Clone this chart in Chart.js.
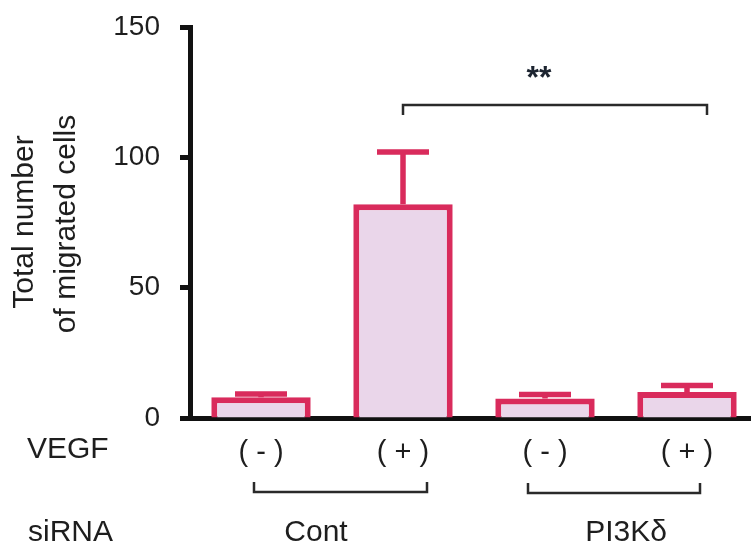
<!DOCTYPE html>
<html>
<head>
<meta charset="utf-8">
<script src="https://cdn.jsdelivr.net/npm/chart.js@4.4.0/dist/chart.umd.min.js"></script>
<style>
  html, body { margin: 0; padding: 0; background: #fff; overflow: hidden; }
  canvas { display: block; }
</style>
</head>
<body>
<canvas id="c" width="770" height="553"></canvas>
<script>
// values
const categories = ["( - )", "( + )", "( - )", "( + )"];
const meanValues = [8, 82, 7.5, 10];
const upperValues = [9.2, 102, 9, 12.5];
const yTicks = [0, 50, 100, 150];
const groupLabels = ["Cont", "PI3Kδ"];
const rowLabels = ["VEGF", "siRNA"];
const yTitle = ["Total number", "of migrated cells"];
const sigLabel = "**";

const FONT = 'Arial, "Liberation Sans", sans-serif';
const RED = "#d92b5c";
const FILL = "#ead6ea";
const INK = "#1e1e1e";

const errorBars = {
  id: "errorBars",
  afterDatasetsDraw(chart) {
    const ctx = chart.ctx;
    const y = chart.scales.y;
    const meta = chart.getDatasetMeta(0);
    ctx.save();
    ctx.strokeStyle = RED;
    ctx.lineWidth = 5.5;
    meta.data.forEach((bar, i) => {
      const top = y.getPixelForValue(meanValues[i]);
      const hi = y.getPixelForValue(upperValues[i]);
      ctx.beginPath();
      ctx.moveTo(bar.x, top);
      ctx.lineTo(bar.x, hi);
      ctx.moveTo(bar.x - 26, hi);
      ctx.lineTo(bar.x + 26, hi);
      ctx.stroke();
    });
    ctx.restore();
  }
};

const annotations = {
  id: "annotations",
  afterDraw(chart) {
    const ctx = chart.ctx;
    const x = chart.scales.x;
    const px = i => x.getPixelForValue(i);
    ctx.save();
    ctx.fillStyle = INK;
    ctx.strokeStyle = "#2a2a2a";
    ctx.lineWidth = 2.5;

    // y title, two rotated lines
    ctx.font = "30px " + FONT;
    ctx.textAlign = "center";
    ctx.textBaseline = "middle";
    [[25, 222], [67, 224]].forEach((p, i) => {
      ctx.save();
      ctx.translate(p[0], p[1]);
      ctx.rotate(-Math.PI / 2);
      ctx.fillText(yTitle[i], 0, 0);
      ctx.restore();
    });

    // row labels
    ctx.textAlign = "left";
    ctx.fillText(rowLabels[0], 27, 450);
    ctx.fillText(rowLabels[1], 28, 533);

    // group brackets and labels
    const brackets = [[px(0) - 7, px(1) + 24, 492], [px(2) - 17, px(3) + 13, 493]];
    brackets.forEach(b => {
      ctx.beginPath();
      ctx.moveTo(b[0], b[2] - 10);
      ctx.lineTo(b[0], b[2]);
      ctx.lineTo(b[1], b[2]);
      ctx.lineTo(b[1], b[2] - 10);
      ctx.stroke();
    });
    ctx.textAlign = "center";
    ctx.fillText(groupLabels[0], px(0) + 55, 533);
    ctx.fillText(groupLabels[1], px(2) + 81, 533);

    // significance bracket
    const sx1 = px(1), sx2 = px(3) + 20;
    ctx.beginPath();
    ctx.moveTo(sx1, 115);
    ctx.lineTo(sx1, 105);
    ctx.lineTo(sx2, 105);
    ctx.lineTo(sx2, 115);
    ctx.stroke();
    ctx.font = "bold 32px " + FONT;
    ctx.textBaseline = "alphabetic";
    ctx.fillStyle = "#1c2430";
    ctx.fillText(sigLabel, 539, 88);
    ctx.restore();
  }
};

new Chart(document.getElementById("c"), {
  type: "bar",
  data: {
    labels: categories,
    datasets: [{
      data: meanValues,
      backgroundColor: FILL,
      borderColor: RED,
      borderWidth: 6,
      categoryPercentage: 1,
      barPercentage: 0.7
    }]
  },
  options: {
    responsive: false,
    animation: false,
    layout: { padding: { top: 27, right: 12, left: 0, bottom: 0 } },
    plugins: { legend: { display: false }, tooltip: { enabled: false } },
    scales: {
      x: {
        grid: { display: false },
        border: { display: true, width: 5, color: "#111" },
        ticks: { color: INK, font: { size: 29, family: FONT }, padding: 10, maxRotation: 0 },
        afterFit(scale) { scale.height = 135; }
      },
      y: {
        min: 0,
        max: 150,
        afterBuildTicks(scale) { scale.ticks = yTicks.map(v => ({ value: v })); },
        grid: { drawOnChartArea: false, drawTicks: true, tickLength: 10, tickWidth: 5, tickColor: "#111" },
        border: { display: true, width: 5, color: "#111" },
        ticks: { color: INK, font: { size: 28, family: FONT }, padding: 20 },
        afterFit(scale) {
          scale.width = 190;
          scale.paddingTop = 0;
          scale.paddingBottom = 0;
        }
      }
    }
  },
  plugins: [errorBars, annotations]
});
</script>
</body>
</html>
